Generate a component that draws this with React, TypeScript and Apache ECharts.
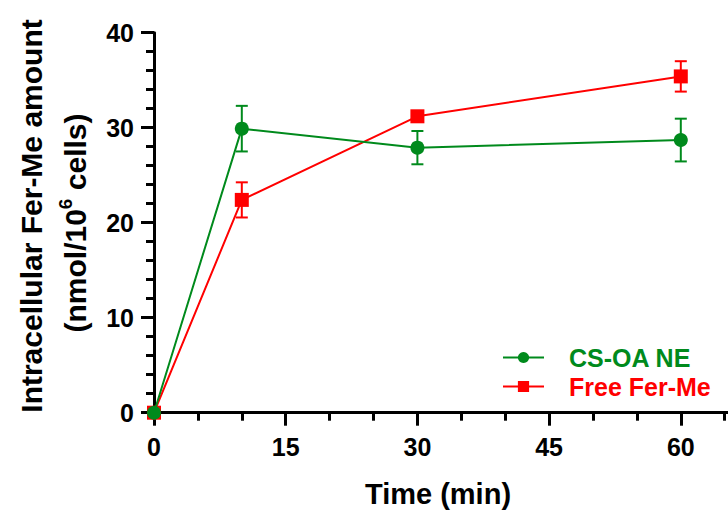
import React, { useEffect, useRef } from "react";
import * as echarts from "echarts";

const times = [0, 10, 30, 60];
const csoaMean = [0, 29.9, 27.9, 28.7];
const csoaErr = [0, 2.4, 1.75, 2.25];
const freeMean = [0, 22.4, 31.2, 35.4];
const freeErr = [0, 1.85, 0.5, 1.6];
const seriesNames = ["CS-OA NE", "Free Fer-Me"];
const GREEN = "#008a1c";
const RED = "#ff0000";
const FONT = "'Liberation Sans', Arial, sans-serif";

function errorSeries(name: string, mean: number[], err: number[], color: string) {
  const data = times.map((t, i) => [t, mean[i] - err[i], mean[i] + err[i]]);
  return {
    type: "custom",
    name: name + " err",
    data,
    z: 3,
    silent: true,
    renderItem: (params: any, api: any) => {
      const x = api.value(0);
      const lo = api.coord([x, api.value(1)]);
      const hi = api.coord([x, api.value(2)]);
      const hw = 6;
      const style = { stroke: color, lineWidth: 2, fill: "none" };
      return {
        type: "group",
        children: [
          { type: "line", shape: { x1: lo[0], y1: lo[1], x2: hi[0], y2: hi[1] }, style },
          { type: "line", shape: { x1: lo[0] - hw, y1: lo[1], x2: lo[0] + hw, y2: lo[1] }, style },
          { type: "line", shape: { x1: hi[0] - hw, y1: hi[1], x2: hi[0] + hw, y2: hi[1] }, style },
        ],
      };
    },
  };
}

export default function App() {
  const ref = useRef<HTMLDivElement>(null);
  useEffect(() => {
    if (!ref.current) return;
    const chart = echarts.init(ref.current, undefined, { renderer: "svg" });
    chart.setOption({
      animation: false,
      backgroundColor: "#ffffff",
      grid: { left: 154, top: 32.7, width: 658.5, height: 380, containLabel: false, outerBoundsMode: "none" },
      xAxis: {
        type: "value",
        min: 0,
        max: 75,
        interval: 15,
        axisLine: { show: true, onZero: false, lineStyle: { color: "#000", width: 3 } },
        axisTick: { show: true, length: 13, lineStyle: { color: "#000", width: 3 } },
        minorTick: { show: true, splitNumber: 3, length: 8, lineStyle: { color: "#000", width: 3 } },
        splitLine: { show: false },
        axisLabel: { color: "#000", fontSize: 25, fontWeight: "bold", fontFamily: FONT, margin: 22, showMaxLabel: false },
      },
      yAxis: {
        type: "value",
        min: 0,
        max: 40,
        interval: 10,
        axisLine: { show: true, lineStyle: { color: "#000", width: 3 } },
        axisTick: { show: true, length: 13, lineStyle: { color: "#000", width: 3 } },
        minorTick: { show: true, splitNumber: 5, length: 8, lineStyle: { color: "#000", width: 3 } },
        splitLine: { show: false },
        axisLabel: { color: "#000", fontSize: 25, fontWeight: "bold", fontFamily: FONT, margin: 20 },
      },
      legend: {
        show: true,
        orient: "vertical",
        left: 497,
        top: 340,
        itemWidth: 41,
        itemHeight: 14,
        itemGap: 4,
        data: [
          { name: seriesNames[0], textStyle: { color: GREEN } },
          { name: seriesNames[1], textStyle: { color: RED } },
        ],
        textStyle: { fontSize: 25, fontWeight: "bold", fontFamily: FONT, padding: [0, 0, 0, 20] },
      },
      graphic: [
        {
          type: "text",
          x: 31,
          y: 216,
          rotation: Math.PI / 2,
          style: {
            text: "Intracellular Fer-Me amount",
            fontSize: 30,
            fontWeight: "bold",
            fontFamily: FONT,
            fill: "#000",
            align: "center",
            verticalAlign: "middle",
          },
        },
        {
          type: "text",
          x: 73,
          y: 223,
          rotation: Math.PI / 2,
          style: {
            text: "{a|(nmol/10}{s|6}{a| cells)}",
            fill: "#000",
            align: "center",
            verticalAlign: "middle",
            rich: {
              a: { fontSize: 30, fontWeight: "bold", fontFamily: FONT, fill: "#000", lineHeight: 34, verticalAlign: "bottom" },
              s: { fontSize: 19, fontWeight: "bold", fontFamily: FONT, fill: "#000", lineHeight: 34, verticalAlign: "top", padding: [0, 0, 12, 0] },
            },
          },
        },
        {
          type: "text",
          x: 438,
          y: 494,
          style: {
            text: "Time (min)",
            fontSize: 29,
            fontWeight: "bold",
            fontFamily: FONT,
            fill: "#000",
            align: "center",
            verticalAlign: "middle",
          },
        },
      ],
      series: [
        errorSeries(seriesNames[1], freeMean, freeErr, RED),
        errorSeries(seriesNames[0], csoaMean, csoaErr, GREEN),
        {
          type: "line",
          name: seriesNames[1],
          data: times.map((t, i) => [t, freeMean[i]]),
          color: RED,
          symbol: "rect",
          symbolSize: 14,
          lineStyle: { width: 2, color: RED },
          itemStyle: { color: RED },
          z: 4,
        },
        {
          type: "line",
          name: seriesNames[0],
          data: times.map((t, i) => [t, csoaMean[i]]),
          color: GREEN,
          symbol: "circle",
          symbolSize: 14,
          lineStyle: { width: 2, color: GREEN },
          itemStyle: { color: GREEN },
          z: 5,
        },
      ],
    });
    return () => chart.dispose();
  }, []);
  return <div ref={ref} style={{ width: 728, height: 511, position: "absolute", left: 0, top: 0 }} />;
}
